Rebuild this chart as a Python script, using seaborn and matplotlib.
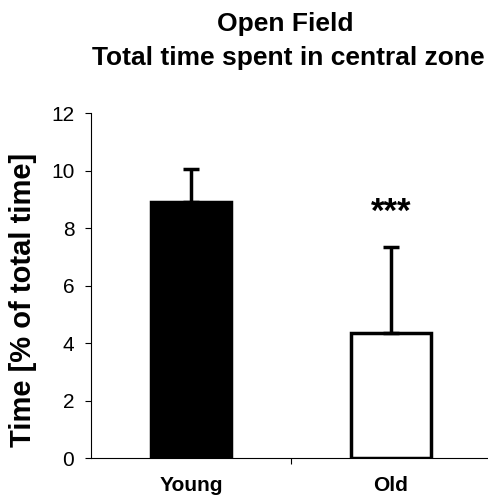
import seaborn as sns  # plotting
import matplotlib.pyplot as plt  # figure handling
import pandas as pd  # data handling

# values
groups = ["Young", "Old"]
means = [8.9, 4.35]
upper_err = [1.15, 3.0]
bar_colors = ["black", "white"]
title_lines = ["Open Field", "Total time spent in central zone"]

df = pd.DataFrame({"Group": groups, "Time": means})

sns.set_style("ticks")
plt.rcParams["font.family"] = ["Liberation Sans", "DejaVu Sans"]
plt.rcParams["text.color"] = "black"
plt.rcParams["axes.labelcolor"] = "black"
plt.rcParams["xtick.color"] = "black"
plt.rcParams["ytick.color"] = "black"
plt.rcParams["axes.edgecolor"] = "black"

fig = plt.figure(figsize=(4.89, 4.98), dpi=100)
ax = fig.add_axes([0.186, 0.0803, 0.818, 0.6927])

sns.barplot(data=df, x="Group", y="Time", hue="Group", palette=bar_colors,
            edgecolor="black", linewidth=2.5, width=0.4, errorbar=None,
            legend=False, ax=ax)

# upper error bars only
ax.errorbar(range(len(groups)), means, yerr=[[0, 0], upper_err], fmt="none",
            ecolor="black", elinewidth=2.5, capsize=6, capthick=2.5, zorder=3)

# significance marker
ax.text(1, 8.55, "***", ha="center", va="center", fontsize=25, fontweight="bold")

ax.set_xlim(-0.5, 1.5)
ax.set_ylim(0, 12)
ax.set_yticks(range(0, 13, 2))
ax.set_xticks([0.5], minor=True)
ax.tick_params(axis="x", which="major", length=0, pad=13, labelsize=15)
ax.tick_params(axis="x", which="minor", length=4, width=0.8, direction="out")
ax.tick_params(axis="y", length=4, width=0.8, pad=8, labelsize=15)
for lbl in ax.get_xticklabels():
    lbl.set_fontweight("bold")
ax.set_xlabel("")
ax.set_ylabel("Time [% of total time]", fontsize=21, fontweight="bold")
ax.yaxis.set_label_coords(-0.135, 0.458)
sns.despine(ax=ax)
for sp in ["left", "bottom"]:
    ax.spines[sp].set_linewidth(0.8)

# two-line title
fig.text(0.583, 1 - 31 / 498, title_lines[0], ha="center", va="baseline",
         fontsize=19, fontweight="bold")
fig.text(0.589, 1 - 65 / 498, title_lines[1], ha="center", va="baseline",
         fontsize=19, fontweight="bold")

fig.savefig("out.png", dpi=100)
